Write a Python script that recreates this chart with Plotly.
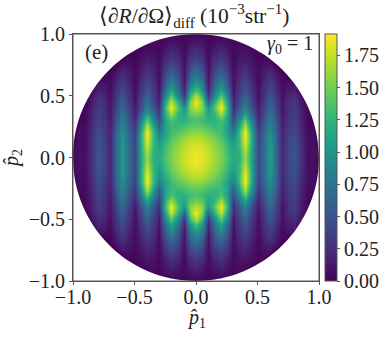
import numpy as np
import plotly.graph_objects as go

# grid of the upper right quadrant, the other three are mirrored from it
p1_values = [0, .05, .1, .15, .2, .25, .3, .35, .4, .45, .5, .55, .6, .65, .7, .75, .8, .85, .9, .95, 1.0]
p2_values = [0, .05, .1, .15, .2, .25, .3, .35, .4, .45, .5, .55, .6, .65, .7, .75, .8, .85, .9, .95, 1.0]

# one row per p2 value
rate_rows = [
    [1.88, 1.84, 1.76, 1.66, 1.52, 1.36, 1.16, 1.22, 1.62, 1.15, .42, .72, 1.06, .66, .20, .40, .52, .26, .07, .09, .06],
    [1.86, 1.82, 1.74, 1.64, 1.50, 1.33, 1.12, 1.24, 1.70, 1.17, .41, .71, 1.05, .65, .20, .40, .51, .26, .07, .09, .05],
    [1.80, 1.77, 1.69, 1.60, 1.46, 1.28, 1.05, 1.28, 1.80, 1.20, .40, .70, 1.03, .64, .20, .39, .50, .25, .07, .08, .04],
    [1.72, 1.69, 1.62, 1.52, 1.40, 1.20, .95, 1.30, 1.88, 1.22, .38, .68, 1.00, .62, .19, .37, .48, .23, .07, .08, 0],
    [1.60, 1.58, 1.50, 1.42, 1.32, 1.10, .82, 1.30, 1.90, 1.20, .36, .65, .95, .60, .18, .35, .45, .22, .07, .07, 0],
    [1.46, 1.43, 1.36, 1.30, 1.30, 1.10, .62, 1.15, 1.75, 1.05, .30, .58, .88, .55, .16, .32, .42, .20, .06, .05, 0],
    [1.35, 1.32, 1.22, 1.22, 1.36, 1.10, .45, .92, 1.45, .85, .24, .52, .82, .50, .14, .30, .39, .18, .05, 0, 0],
    [1.50, 1.42, 1.12, 1.25, 1.65, 1.20, .32, .70, 1.08, .65, .17, .46, .73, .45, .12, .28, .37, .16, .05, 0, 0],
    [1.72, 1.55, 1.02, 1.38, 1.90, 1.28, .25, .55, .85, .50, .13, .40, .65, .40, .10, .26, .34, .15, .04, 0, 0],
    [1.88, 1.55, .62, 1.20, 1.75, 1.10, .18, .45, .72, .42, .10, .34, .58, .35, .09, .24, .30, .12, 0, 0, 0],
    [1.70, 1.30, .30, .90, 1.42, .88, .13, .38, .62, .36, .08, .30, .50, .30, .08, .20, .25, .10, 0, 0, 0],
    [1.32, 1.00, .18, .72, 1.10, .68, .10, .33, .50, .30, .07, .26, .42, .25, .06, .15, .18, 0, 0, 0, 0],
    [1.02, .78, .12, .58, .88, .55, .08, .28, .42, .25, .06, .22, .35, .20, .05, .10, .10, 0, 0, 0, 0],
    [.82, .62, .10, .48, .70, .45, .07, .24, .33, .20, .05, .17, .28, .15, .04, 0, 0, 0, 0, 0, 0],
    [.66, .50, .08, .40, .55, .36, .06, .20, .27, .16, .05, .14, .20, .10, 0, 0, 0, 0, 0, 0, 0],
    [.52, .40, .07, .32, .43, .28, .05, .16, .20, .13, .04, .10, .12, 0, 0, 0, 0, 0, 0, 0, 0],
    [.38, .29, .06, .24, .32, .21, .05, .12, .15, .09, .03, .06, 0, 0, 0, 0, 0, 0, 0, 0, 0],
    [.27, .21, .05, .17, .23, .15, .04, .09, .10, .06, .02, 0, 0, 0, 0, 0, 0, 0, 0, 0, 0],
    [.18, .14, .04, .11, .15, .10, .03, .06, .06, .03, 0, 0, 0, 0, 0, 0, 0, 0, 0, 0, 0],
    [.10, .08, .03, .06, .08, .05, .02, .03, 0, 0, 0, 0, 0, 0, 0, 0, 0, 0, 0, 0, 0],
    [.05, .04, .02, .03, .04, 0, 0, 0, 0, 0, 0, 0, 0, 0, 0, 0, 0, 0, 0, 0, 0],
]

axis_ticks = [-1.0, -0.5, 0.0, 0.5, 1.0]
axis_tick_labels = ["−1.0", "−0.5", "0.0", "0.5", "1.0"]
bar_ticks = [0, .25, .5, .75, 1.0, 1.25, 1.5, 1.75]
bar_tick_labels = ["0.00", "0.25", "0.50", "0.75", "1.00", "1.25", "1.50", "1.75"]
rate_max = 1.915

FONT = "Liberation Serif, serif"
FRAME = "#555555"

# mirror the quadrant into the full disc
quadrant = np.array(rate_rows)
right = np.vstack([quadrant[:0:-1], quadrant])
rate = np.hstack([right[:, :0:-1], right])
p1 = [-v for v in p1_values[:0:-1]] + p1_values
p2 = [-v for v in p2_values[:0:-1]] + p2_values

fig = go.Figure(go.Heatmap(
    x=p1, y=p2, z=rate,
    colorscale="Viridis", zmin=0, zmax=rate_max, zsmooth="best",
    colorbar=dict(
        x=1.024, xanchor="left", xpad=0, ypad=0, len=1, thickness=12,
        outlinecolor=FRAME, outlinewidth=1,
        tickmode="array", tickvals=bar_ticks, ticktext=bar_tick_labels,
        ticks="outside", ticklen=3, tickcolor=FRAME,
        tickfont=dict(family=FONT, size=20, color="#222222"),
    ),
))

# white cover with a round hole, so the disc has a clean edge
k = 0.5523
circle_cover = (
    "M -1 -1 L 1 -1 L 1 1 L -1 1 Z "
    f"M 1 0 C 1 {k} {k} 1 0 1 C {-k} 1 -1 {k} -1 0 "
    f"C -1 {-k} {-k} -1 0 -1 C {k} -1 1 {-k} 1 0 Z"
)
fig.add_shape(type="path", path=circle_cover, fillcolor="white", fillrule="evenodd",
              line_width=0, layer="above")
fig.add_shape(type="rect", xref="x domain", yref="y domain", x0=0, x1=1, y0=0, y1=1,
              line=dict(color=FRAME, width=1), layer="above")

axis_style = dict(
    range=[-1, 1], tickmode="array", tickvals=axis_ticks, ticktext=axis_tick_labels,
    ticks="outside", ticklen=3, tickcolor=FRAME, showgrid=False, zeroline=False,
    showline=True, linecolor=FRAME, mirror=True,
    tickfont=dict(family=FONT, size=20, color="#222222"),
)

fig.update_layout(
    width=383, height=345,
    margin=dict(l=73, r=64, t=34, b=64, autoexpand=False),
    paper_bgcolor="white", plot_bgcolor="white",
    font=dict(family=FONT, color="#222222"),
    xaxis=dict(ticklabelstandoff=-5, **axis_style),
    yaxis=dict(title=dict(text="<i>p̂</i><sub>2</sub>", font=dict(size=20), standoff=6), **axis_style),
    title=dict(
        text="⟨∂<i>R</i>/∂Ω⟩<sub>diff</sub> (10<sup>−3</sup>str<sup>−1</sup>)",
        font=dict(size=21.5), x=0.507, xanchor="center", y=0.955, yanchor="middle",
    ),
    annotations=[
        dict(text="<i>p̂</i><sub>1</sub>", x=0.5, y=0, xref="x domain", yref="y domain", xanchor="center",
             yanchor="middle", showarrow=False, font=dict(size=20), yshift=-37),
        dict(text="(e)", x=-0.97, y=0.97, xref="x", yref="y", xanchor="left", yanchor="top",
             showarrow=False, font=dict(size=21), xshift=6, yshift=0),
        dict(text="<i>γ</i><sub>0</sub> = 1", x=0.97, y=0.97, xref="x", yref="y", xanchor="right",
             yanchor="top", showarrow=False, font=dict(size=20), yshift=8),
    ],
)

# drop the page's default body margin so the figure sits at the window corner
fig.write_html("out.html", config={"displayModeBar": False},
               post_script="document.body.style.margin='0';")
